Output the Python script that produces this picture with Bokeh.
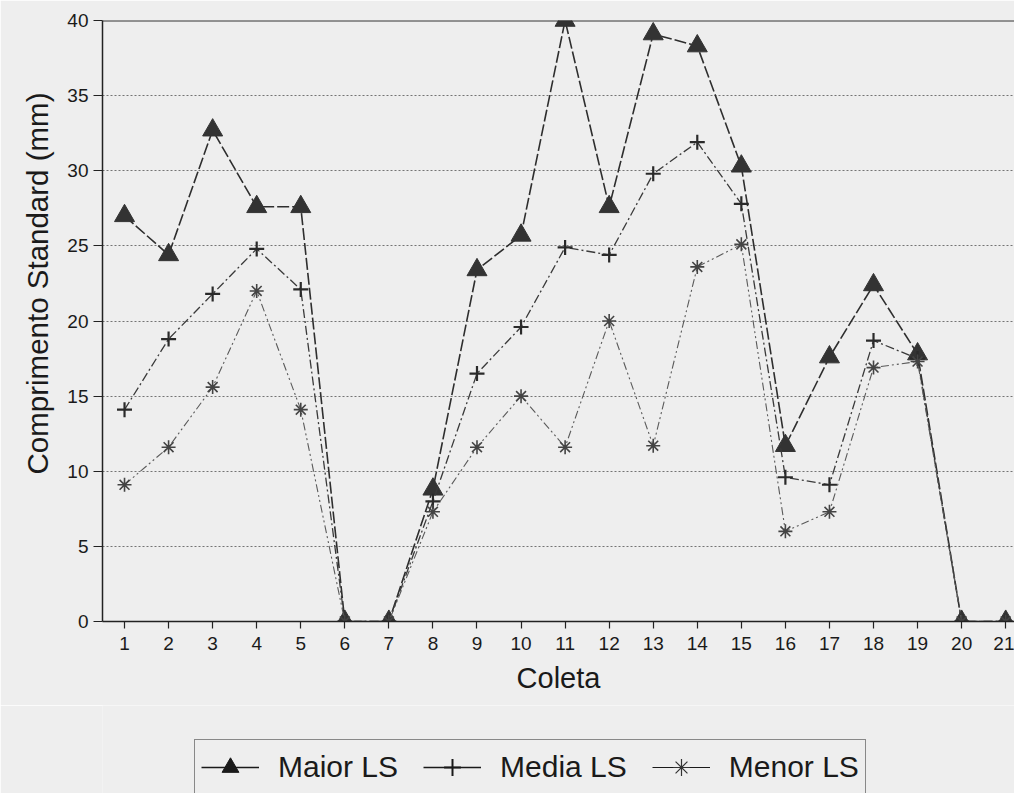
from bokeh.plotting import figure
from bokeh.layouts import column
from bokeh.models import (Range1d, FixedTicker, Legend, LegendItem, Span, Title)
from bokeh.embed import file_html
from bokeh.resources import INLINE

coleta = list(range(1, 22))
maior_ls = [27.0, 24.4, 32.7, 27.6, 27.6, 0, 0, 8.8, 23.4, 25.7, 40.0, 27.6, 39.1, 38.3, 30.3, 11.7, 17.6, 22.4, 17.8, 0, 0]
media_ls = [14.1, 18.8, 21.8, 24.8, 22.1, 0, 0, 8.0, 16.5, 19.6, 24.9, 24.4, 29.8, 31.9, 27.8, 9.6, 9.1, 18.7, 17.5, 0, 0]
menor_ls = [9.1, 11.6, 15.6, 22.0, 14.1, 0, 0, 7.3, 11.6, 15.0, 11.6, 20.0, 11.7, 23.6, 25.1, 6.0, 7.3, 16.9, 17.3, 0, 0]
y_ticks = [0, 5, 10, 15, 20, 25, 30, 35, 40]
series_names = ["Maior LS", "Media LS", "Menor LS"]

BG = "#eeeeee"
FONT = "Liberation Sans"

p = figure(width=1014, height=705, output_backend="svg", toolbar_location=None,
           x_range=Range1d(0.5, 21.2), y_range=Range1d(0, 40),
           min_border_left=102, min_border_right=0, min_border_top=20, min_border_bottom=84)
p.background_fill_color = BG
p.border_fill_color = BG
p.outline_line_color = None

p.xgrid.grid_line_color = None
p.ygrid.grid_line_color = "#555555"
p.ygrid.grid_line_dash = "2 2"
p.ygrid.grid_line_width = 1
p.ygrid.grid_line_alpha = 0.8

for ax in (p.xaxis[0], p.yaxis[0]):
    ax.axis_line_color = "#222222"
    ax.axis_line_width = 1.5
    ax.major_tick_line_color = "#222222"
    ax.major_tick_line_width = 1.2
    ax.minor_tick_line_color = None
    ax.major_tick_in = 0
    ax.major_label_text_font = FONT
    ax.major_label_text_font_size = "19px"
    ax.major_label_text_color = "#1a1a1a"

p.xaxis.ticker = FixedTicker(ticks=coleta)
p.yaxis.ticker = FixedTicker(ticks=y_ticks)
p.xaxis.major_tick_out = 7
p.yaxis.major_tick_out = 9
p.xaxis.major_label_standoff = 8
p.yaxis.major_label_standoff = 5
p.xaxis.axis_label = "Coleta"
p.xaxis.axis_label_text_font = FONT
p.xaxis.axis_label_text_font_size = "29px"
p.xaxis.axis_label_text_font_style = "normal"
p.xaxis.axis_label_text_color = "#1a1a1a"
p.xaxis.axis_label_standoff = 9

p.add_layout(Span(location=40, dimension="width", line_color="#333333", line_width=2))

p.add_layout(Title(text="Comprimento Standard (mm)", align="right", offset=72, standoff=21,
                   text_font=FONT, text_font_size="29.5px", text_font_style="normal",
                   text_color="#1a1a1a"), "left")

p.line(coleta, maior_ls, line_color="#2e2e2e", line_width=1.6, line_dash="12 3")
p.scatter(coleta, maior_ls, marker="triangle", size=20, fill_color="#333333", line_color="#333333")
p.line(coleta, media_ls, line_color="#3a3a3a", line_width=1.3, line_dash="9 3 2 3")
p.scatter(coleta, media_ls, marker="cross", size=15, line_color="#2a2a2a", line_width=2.2)
p.line(coleta, menor_ls, line_color="#5a5a5a", line_width=1.1, line_dash="8 3 2 3 2 3")
p.scatter(coleta, menor_ls, marker="asterisk", size=14, line_color="#444444", line_width=1.6)

# legend strip below the chart: its own series renderers lie outside its (empty) view,
# only their legend glyphs are shown
q = figure(width=1014, height=88, output_backend="svg", toolbar_location=None,
           x_axis_type=None, y_axis_type=None, x_range=Range1d(0.5, 21.2), y_range=Range1d(1000, 1001),
           min_border_left=102, min_border_right=0, min_border_top=0, min_border_bottom=0)
q.background_fill_color = BG
q.border_fill_color = BG
q.outline_line_color = None
q.grid.grid_line_color = None

m1 = [q.line(coleta, maior_ls, line_color="#1a1a1a", line_width=1.5),
      q.scatter(coleta, maior_ls, marker="triangle", fill_color="#1a1a1a", line_color="#1a1a1a")]
m2 = [q.line(coleta, media_ls, line_color="#1a1a1a", line_width=1.5),
      q.scatter(coleta, media_ls, marker="cross", line_color="#1a1a1a", line_width=2)]
m3 = [q.line(coleta, menor_ls, line_color="#1a1a1a", line_width=1.2),
      q.scatter(coleta, menor_ls, marker="asterisk", line_color="#333333", line_width=1.2)]

legend = Legend(items=[LegendItem(label=series_names[0], renderers=m1),
                       LegendItem(label=series_names[1], renderers=m2),
                       LegendItem(label=series_names[2], renderers=m3)],
                orientation="horizontal", location=(92, -2),
                border_line_color="#222222", border_line_width=1.5,
                background_fill_alpha=0,
                label_text_font=FONT, label_text_font_size="30px", label_text_color="#1a1a1a",
                label_text_baseline="middle",
                glyph_width=58, glyph_height=42, label_height=42, padding=6, spacing=25,
                label_standoff=19, margin=0)
q.add_layout(legend, "center")

layout = column(p, q, spacing=0)
open("out.html", "w").write(file_html(layout, INLINE))
